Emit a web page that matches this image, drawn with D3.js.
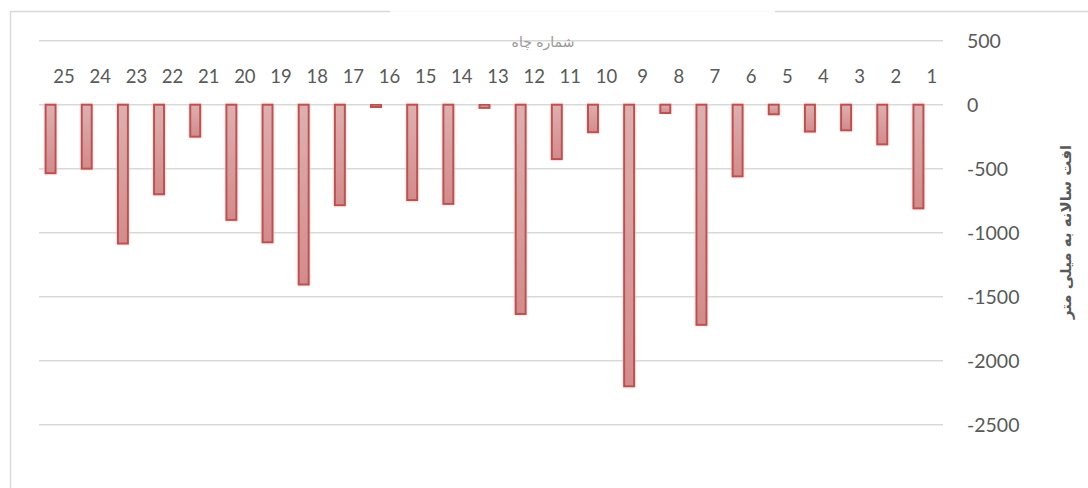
<!DOCTYPE html>
<html>
<head>
<meta charset="utf-8">
<script src="https://cdn.jsdelivr.net/npm/d3@7"></script>
<style>
  html, body { margin: 0; padding: 0; background: #fff; overflow: hidden; }
  svg { display: block; }
</style>
</head>
<body>
<div id="chart"></div>
<script>
// well numbers (x axis runs right to left) and annual drop in mm
const wells = [1, 2, 3, 4, 5, 6, 7, 8, 9, 10, 11, 12, 13, 14, 15, 16, 17, 18, 19, 20, 21, 22, 23, 24, 25];
const drop = [-810, -310, -200, -210, -75, -560, -1720, -65, -2200, -215, -425, -1635, -25, -775, -745, -18, -785, -1405, -1075, -900, -250, -700, -1085, -500, -535];
const yTicks = [500, 0, -500, -1000, -1500, -2000, -2500];

const xTitle = 'شماره چاه';
const yTitle = 'افت سالانه به میلی متر';

const data = wells.map((w, i) => ({ well: w, value: drop[i] }));

const width = 1088;
const height = 488;

const svg = d3.select('#chart')
    .append('svg')
    .attr('width', width)
    .attr('height', height);

const defs = svg.append('defs');
const grad = defs.append('linearGradient')
    .attr('id', 'barFill')
    .attr('x1', 0).attr('y1', 0).attr('x2', 0).attr('y2', 1);
grad.append('stop').attr('offset', '0%').attr('stop-color', '#ddb0b0');
grad.append('stop').attr('offset', '100%').attr('stop-color', '#d38b8b');

const glow = defs.append('filter').attr('id', 'glow')
    .attr('x', '-50%').attr('y', '-10%').attr('width', '200%').attr('height', '120%');
glow.append('feGaussianBlur').attr('in', 'SourceAlpha').attr('stdDeviation', 1.2).attr('result', 'b');
glow.append('feFlood').attr('flood-color', '#f2c4c4');
glow.append('feComposite').attr('in2', 'b').attr('operator', 'in').attr('result', 'g');
const merge = glow.append('feMerge');
merge.append('feMergeNode').attr('in', 'g');
merge.append('feMergeNode').attr('in', 'SourceGraphic');

// chart area border (runs off the right and bottom edges)
svg.append('path')
    .attr('d', `M10.5,${height + 5} V11.5 H${width + 5}`)
    .attr('fill', 'none')
    .attr('stroke', '#d9d9d9')
    .attr('stroke-width', 1.5);

// faint watermark patch over the top of the frame
svg.append('rect')
    .attr('x', 390).attr('y', 0).attr('width', 385).attr('height', 30)
    .attr('fill', '#fff').attr('opacity', 0.85);

const x = d3.scaleBand()
    .domain(wells.slice().reverse())
    .range([39, 943])
    .padding(0);

const y = d3.scaleLinear()
    .domain([-3000, 500])
    .range([488.7, 40.7]);

// gridlines
svg.append('g')
    .selectAll('line')
    .data(yTicks)
    .enter()
    .append('line')
    .attr('x1', 39)
    .attr('x2', 943)
    .attr('y1', d => y(d))
    .attr('y2', d => y(d))
    .attr('stroke', '#d9d9d9')
    .attr('stroke-width', 1.5);

// y tick labels on the right
svg.append('g')
    .selectAll('text')
    .data(yTicks)
    .enter()
    .append('text')
    .attr('x', 967)
    .attr('y', d => y(d))
    .attr('dy', '0.35em')
    .attr('font-family', 'Lato, Carlito, sans-serif')
    .attr('font-size', 19.5)
    .attr('fill', '#595959')
    .text(d => d);

// bars sit on the left half of each category slot
const barW = 10;
svg.append('g')
    .selectAll('rect')
    .data(data)
    .enter()
    .append('rect')
    .attr('x', d => x(d.well) + x.bandwidth() / 2 - barW - 1.5)
    .attr('y', d => y(Math.max(0, d.value)))
    .attr('width', barW)
    .attr('height', d => Math.abs(y(d.value) - y(0)))
    .attr('fill', 'url(#barFill)')
    .attr('stroke', '#c0504d')
    .attr('stroke-width', 2)
    .attr('filter', 'url(#glow)');

// category labels
svg.append('g')
    .selectAll('text')
    .data(wells)
    .enter()
    .append('text')
    .attr('x', d => x(d) + x.bandwidth() / 2 + 7)
    .attr('y', 76.5)
    .attr('dy', '0.35em')
    .attr('text-anchor', 'middle')
    .attr('font-family', 'Lato, Carlito, sans-serif')
    .attr('font-size', 18.5)
    .attr('fill', '#595959')
    .text(d => d);

// axis titles
svg.append('text')
    .attr('x', 543)
    .attr('y', 42)
    .attr('dy', '0.35em')
    .attr('text-anchor', 'middle')
    .attr('font-family', 'DejaVu Sans')
    .attr('font-size', 14)
    .attr('fill', '#999999')
    .text(xTitle);

svg.append('text')
    .attr('transform', 'translate(1066,232) rotate(-90)')
    .attr('dy', '0.35em')
    .attr('text-anchor', 'middle')
    .attr('font-family', 'DejaVu Sans')
    .attr('font-weight', 'bold')
    .attr('font-size', 15)
    .attr('fill', '#595959')
    .text(yTitle);
</script>
</body>
</html>
